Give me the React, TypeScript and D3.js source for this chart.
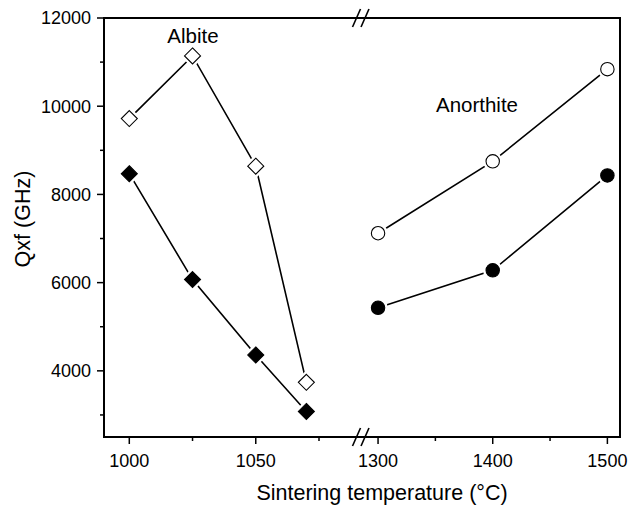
import * as d3 from 'd3';
import { useEffect, useRef } from 'react';

const width = 631;
const height = 505;

const albiteTemps = [1000, 1025, 1050, 1070];
const albiteOpen = [9720, 11140, 8640, 3740];
const albiteFilled = [8470, 6070, 4360, 3080];

const anorthiteTemps = [1300, 1400, 1500];
const anorthiteOpen = [7120, 8750, 10840];
const anorthiteFilled = [5430, 6280, 8430];

const yTicks = [4000, 6000, 8000, 10000, 12000];
const yMinor = [3000, 5000, 7000, 9000, 11000];
const xLeftTicks = [1000, 1050];
const xLeftMinor = [1025, 1075];
const xRightTicks = [1300, 1400, 1500];
const xRightMinor = [1350, 1450];

const font = 'Liberation Sans, Arial, Helvetica, sans-serif';

const App = () => {
  const svgRef = useRef<SVGSVGElement>(null);

  useEffect(() => {
    const svg = d3.select(svgRef.current);
    svg.selectAll('*').remove();

    const left = 104;
    const right = 620;
    const top = 18;
    const bottom = 437;
    const breakX = 362;

    const y = d3.scaleLinear().domain([2500, 12000]).range([bottom, top]);
    const xL = d3.scaleLinear().domain([990, 1092]).range([left, breakX]);
    const xR = d3.scaleLinear().domain([1286, 1511]).range([breakX, right]);

    const g = svg.append('g');

    // frame
    g.append('rect')
      .attr('x', left)
      .attr('y', top)
      .attr('width', right - left)
      .attr('height', bottom - top)
      .attr('fill', 'none')
      .attr('stroke', '#000')
      .attr('stroke-width', 2);

    // y ticks
    yTicks.forEach((t) => {
      g.append('line')
        .attr('x1', left - 7).attr('x2', left)
        .attr('y1', y(t)).attr('y2', y(t))
        .attr('stroke', '#000').attr('stroke-width', 1.5);
      g.append('text')
        .attr('x', left - 13)
        .attr('y', y(t))
        .attr('dy', '0.35em')
        .attr('text-anchor', 'end')
        .style('font-family', font)
        .style('font-size', '18px')
        .text(t);
    });
    yMinor.forEach((t) => {
      g.append('line')
        .attr('x1', left - 4).attr('x2', left)
        .attr('y1', y(t)).attr('y2', y(t))
        .attr('stroke', '#000').attr('stroke-width', 1.5);
    });

    // x ticks
    const xTick = (x: number, len: number, label?: number) => {
      g.append('line')
        .attr('x1', x).attr('x2', x)
        .attr('y1', bottom).attr('y2', bottom + len)
        .attr('stroke', '#000').attr('stroke-width', 1.5);
      if (label !== undefined) {
        g.append('text')
          .attr('x', x)
          .attr('y', bottom + 30)
          .attr('text-anchor', 'middle')
          .style('font-family', font)
          .style('font-size', '18px')
          .text(label);
      }
    };
    xLeftTicks.forEach((t) => xTick(xL(t), 7, t));
    xLeftMinor.forEach((t) => xTick(xL(t), 4));
    xRightTicks.forEach((t) => xTick(xR(t), 7, t));
    xRightMinor.forEach((t) => xTick(xR(t), 4));

    // axis break marks (//) on top and bottom edges
    [top, bottom].forEach((yy) => {
      [-4.5, 4].forEach((dx) => {
        g.append('line')
          .attr('x1', breakX - 1 + dx - 4).attr('y1', yy + 9)
          .attr('x2', breakX - 1 + dx + 4).attr('y2', yy - 9)
          .attr('stroke', '#000').attr('stroke-width', 1.6);
      });
    });

    // axis titles
    g.append('text')
      .attr('x', 382)
      .attr('y', 500)
      .attr('text-anchor', 'middle')
      .style('font-family', font)
      .style('font-size', '21.5px')
      .text('Sintering temperature (°C)');
    g.append('text')
      .attr('transform', 'translate(30,219) rotate(-90)')
      .attr('text-anchor', 'middle')
      .style('font-family', font)
      .style('font-size', '21.5px')
      .text('Qxf (GHz)');

    g.append('text')
      .attr('x', 193).attr('y', 43)
      .attr('text-anchor', 'middle')
      .style('font-family', font).style('font-size', '20.5px')
      .text('Albite');
    g.append('text')
      .attr('x', 477).attr('y', 112)
      .attr('text-anchor', 'middle')
      .style('font-family', font).style('font-size', '20.5px')
      .text('Anorthite');

    const line = d3.line<[number, number]>().x((d) => d[0]).y((d) => d[1]);

    const diamond = (r: number) => `M0,${-r}L${r},0L0,${r}L${-r},0Z`;
    const circle = (r: number) =>
      `M${r},0A${r},${r} 0 1,1 ${-r},0A${r},${r} 0 1,1 ${r},0Z`;

    const drawSeries = (
      pts: [number, number][],
      shape: 'diamond' | 'circle',
      filled: boolean
    ) => {
      g.append('path')
        .attr('d', line(pts))
        .attr('fill', 'none')
        .attr('stroke', '#000')
        .attr('stroke-width', 1.6);
      const mk = shape === 'diamond' ? diamond : circle;
      const r = shape === 'diamond' ? 8 : 6.7;
      pts.forEach((p) => {
        // white halo so lines stop short of markers
        g.append('path')
          .attr('transform', `translate(${p[0]},${p[1]})`)
          .attr('d', mk(r + (shape === 'diamond' ? 4 : 3)))
          .attr('fill', '#fff');
        g.append('path')
          .attr('transform', `translate(${p[0]},${p[1]})`)
          .attr('d', mk(r))
          .attr('fill', filled ? '#000' : '#fff')
          .attr('stroke', '#000')
          .attr('stroke-width', 1.1);
      });
    };

    drawSeries(albiteTemps.map((t, i) => [xL(t), y(albiteOpen[i])]), 'diamond', false);
    drawSeries(albiteTemps.map((t, i) => [xL(t), y(albiteFilled[i])]), 'diamond', true);
    drawSeries(anorthiteTemps.map((t, i) => [xR(t), y(anorthiteOpen[i])]), 'circle', false);
    drawSeries(anorthiteTemps.map((t, i) => [xR(t), y(anorthiteFilled[i])]), 'circle', true);
  }, []);

  return (
    <svg
      ref={svgRef}
      width={width}
      height={height}
      style={{ position: 'absolute', left: 0, top: 0, background: '#fff' }}
    />
  );
};

export default App;
